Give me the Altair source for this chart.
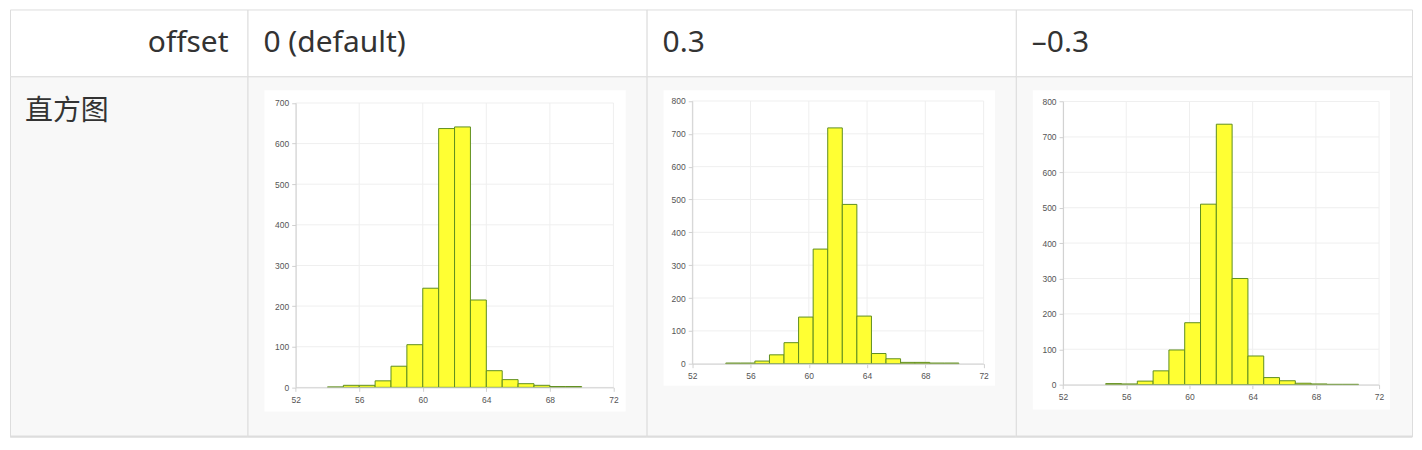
import altair as alt
import pandas as pd

# ---------------- data ----------------
headers = ["offset", "0 (default)", "0.3", "–0.3"]
row_label = "直方图"

bin_starts_0 = [54, 55, 56, 57, 58, 59, 60, 61, 62, 63, 64, 65, 66, 67, 68, 69]
bin_starts_p3 = [54.3, 55.3, 56.3, 57.3, 58.3, 59.3, 60.3, 61.3, 62.3, 63.3, 64.3, 65.3, 66.3, 67.3, 68.3, 69.3]
bin_starts_m3 = [54.7, 55.7, 56.7, 57.7, 58.7, 59.7, 60.7, 61.7, 62.7, 63.7, 64.7, 65.7, 66.7, 67.7, 68.7, 69.7]
bin_width = 1

counts_0 = [1, 5, 5, 16, 52, 105, 244, 637, 641, 215, 41, 19, 9, 5, 2, 2]
counts_p3 = [2, 2, 8, 27, 64, 142, 349, 718, 485, 145, 31, 15, 4, 4, 2, 2]
counts_m3 = [3, 2, 10, 39, 98, 175, 510, 736, 300, 81, 20, 11, 4, 2, 1, 1]

y_max = [700, 800, 800]
x_ticks = [52, 56, 60, 64, 68, 72]
x_domain = [52, 72]

# ---------------- layout ----------------
col_w = [238, 400, 370, 397]
head_h = 67
body_h = 361
border = "#dddddd"
body_fill = "#f8f8f8"

# plot ranges inside the body cells (pixels, relative to cell)
x_ranges = [[48.3, 366.7], [45.7, 337.7], [47.3, 364]]
y_ranges = [[311.7, 26.7], [288, 24.7], [309, 25.3]]
panels = [[17, 14, 379, 336], [17, 14, 349, 310], [17, 14, 375, 334]]

one = pd.DataFrame({"a": [0]})


def header_cell(text, w, x, align):
    df = pd.DataFrame({"t": [text]})
    return (
        alt.Chart(df)
        .mark_text(align=align, baseline="alphabetic", font="Noto Sans",
                   fontSize=30, color="#333333")
        .encode(x=alt.value(x), y=alt.value(43), text="t:N")
        .properties(width=w, height=head_h,
                    view=alt.ViewBackground(fill="white", stroke=border))
    )


def bottom_rule(w):
    return alt.Chart(one).mark_rule(color=border, strokeWidth=2).encode(
        x=alt.value(0), x2=alt.value(w), y=alt.value(body_h)
    )


def label_cell(text, w):
    df = pd.DataFrame({"t": [text]})
    txt = (
        alt.Chart(df)
        .mark_text(align="left", baseline="alphabetic", font="Noto Sans CJK SC",
                   fontSize=28, color="#333333")
        .encode(x=alt.value(15), y=alt.value(44), text="t:N")
    )
    return alt.layer(txt, bottom_rule(w)).properties(
        width=w, height=body_h,
        view=alt.ViewBackground(fill=body_fill, stroke=border))


def hist_cell(starts, counts, ymax, w, xr, yr, panel):
    df = pd.DataFrame({"x0": starts,
                       "x1": [s + bin_width for s in starts],
                       "n": counts,
                       "z": [0] * len(starts)})
    xs = alt.Scale(domain=x_domain, range=xr, nice=False, zero=False)
    ys = alt.Scale(domain=[0, ymax], range=yr, nice=False, zero=True)
    common = dict(labelFont="Liberation Sans", labelFontSize=8.5, labelColor="#555555",
                  domainColor="#d0d0d0", tickColor="#d0d0d0", tickSize=4,
                  grid=False, title=None, labelFlush=False, labelOverlap=False,
                  labelBound=False, zindex=1)
    xax = alt.Axis(values=x_ticks, offset=-(body_h - yr[0]), labelPadding=4, **common)
    yax = alt.Axis(values=list(range(0, ymax + 1, 100)), offset=-xr[0],
                   labelPadding=3, **common)

    bg = alt.Chart(one).mark_rect(fill="white").encode(
        x=alt.value(panel[0]), x2=alt.value(panel[2]),
        y=alt.value(panel[1]), y2=alt.value(panel[3]))

    vdf = pd.DataFrame({"v": x_ticks, "lo": [0] * len(x_ticks), "hi": [ymax] * len(x_ticks)})
    vgrid = alt.Chart(vdf).mark_rule(color="#efefef", strokeWidth=1).encode(
        x=alt.X("v:Q", scale=xs, axis=xax),
        y=alt.Y("lo:Q", scale=ys, axis=yax), y2="hi:Q")

    hvals = list(range(0, ymax + 1, 100))
    hdf = pd.DataFrame({"h": hvals, "l": [x_domain[0]] * len(hvals), "r": [x_domain[1]] * len(hvals)})
    hgrid = alt.Chart(hdf).mark_rule(color="#efefef", strokeWidth=1).encode(
        x=alt.X("l:Q", scale=xs, axis=xax), x2="r:Q",
        y=alt.Y("h:Q", scale=ys, axis=yax))

    bars = alt.Chart(df).mark_rect(fill="#ffff33", stroke="#5f8f1f", strokeWidth=1).encode(
        x=alt.X("x0:Q", scale=xs, axis=xax), x2="x1:Q",
        y=alt.Y("n:Q", scale=ys, axis=yax), y2="z:Q")

    return alt.layer(bg, vgrid, hgrid, bars, bottom_rule(w)).properties(
        width=w, height=body_h,
        view=alt.ViewBackground(fill=body_fill, stroke=border))


head_charts = [
    header_cell(headers[0], col_w[0], col_w[0] - 19, "right"),
    header_cell(headers[1], col_w[1], 16, "left"),
    header_cell(headers[2], col_w[2], 16, "left"),
    header_cell(headers[3], col_w[3], 16, "left"),
]

all_starts = [bin_starts_0, bin_starts_p3, bin_starts_m3]
all_counts = [counts_0, counts_p3, counts_m3]

body_charts = [label_cell(row_label, col_w[0])] + [
    hist_cell(all_starts[i], all_counts[i], y_max[i], col_w[i + 1],
              x_ranges[i], y_ranges[i], panels[i])
    for i in range(3)
]

chart = (
    alt.concat(*(head_charts + body_charts), columns=4, spacing=0)
    .properties(align="each", bounds="flush",
                padding={"left": 0, "top": 0, "right": 0, "bottom": 0})
    .configure(background="white")
    .configure_view(stroke=border)
)

chart.save("out.html", embed_options={"renderer": "svg", "actions": False})
